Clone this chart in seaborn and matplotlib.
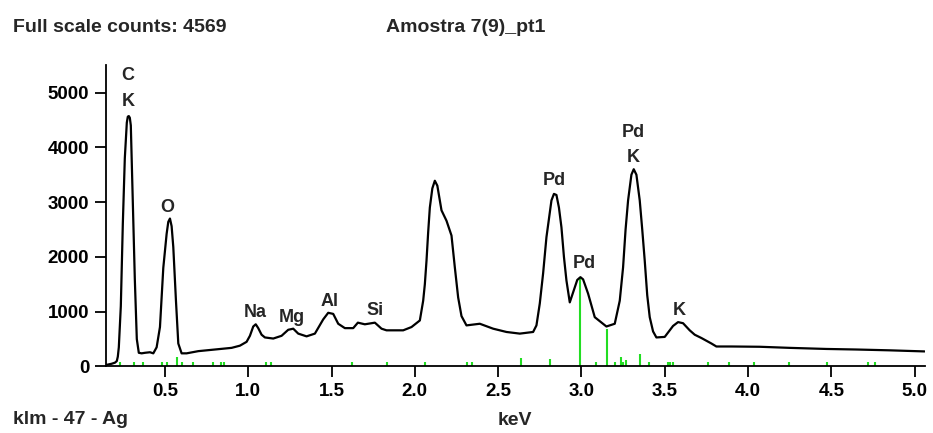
import numpy as np
import pandas as pd
import matplotlib
matplotlib.use("Agg")
import matplotlib.pyplot as plt
import seaborn as sns

# Spectrum (keV, counts)
kev = [0.15, 0.18, 0.20, 0.211, 0.217, 0.223, 0.235, 0.247, 0.259, 0.271,
       0.277, 0.283, 0.289, 0.295, 0.307, 0.319, 0.331, 0.343, 0.36, 0.38,
       0.41, 0.43, 0.45, 0.47, 0.49, 0.51, 0.52, 0.53, 0.54, 0.55,
       0.566, 0.58, 0.60, 0.63, 0.70, 0.80, 0.90, 0.95, 0.99, 1.01,
       1.03, 1.045, 1.06, 1.08, 1.10, 1.15, 1.20, 1.24, 1.27, 1.30,
       1.35, 1.40, 1.45, 1.48, 1.51, 1.54, 1.58, 1.63, 1.658, 1.70,
       1.76, 1.80, 1.83, 1.93, 1.98, 2.03, 2.05, 2.06, 2.07, 2.08,
       2.09, 2.105, 2.12, 2.135, 2.16, 2.19, 2.22, 2.24, 2.26, 2.28,
       2.31, 2.39, 2.47, 2.55, 2.63, 2.71, 2.73, 2.75, 2.77, 2.79,
       2.82, 2.835, 2.85, 2.865, 2.88, 2.895, 2.91, 2.93, 2.95, 2.975,
       2.994, 3.01, 3.04, 3.08, 3.15, 3.20, 3.23, 3.25, 3.265, 3.28,
       3.30, 3.314, 3.33, 3.35, 3.365, 3.38, 3.395, 3.41, 3.43, 3.45,
       3.50, 3.55, 3.58, 3.61, 3.65, 3.68, 3.72, 3.78, 3.81, 3.90,
       4.07, 4.25, 4.47, 4.65, 4.85, 5.06]
counts = [30, 50, 70, 100, 180, 350, 1100, 2600, 3800, 4450,
          4560, 4570, 4540, 4400, 3000, 1600, 500, 250, 240, 250,
          260, 240, 350, 720, 1800, 2420, 2640, 2700, 2560, 2180,
          1200, 420, 240, 240, 280, 310, 340, 380, 450, 560,
          730, 770, 700, 580, 530, 510, 560, 670, 690, 600,
          550, 600, 860, 980, 960, 780, 700, 700, 800, 770,
          800, 690, 660, 660, 720, 840, 1200, 1500, 1930, 2450,
          2900, 3250, 3390, 3300, 2850, 2660, 2390, 1810, 1260, 920,
          750, 780, 690, 630, 600, 630, 750, 1150, 1700, 2360,
          3030, 3150, 3130, 2900, 2540, 2000, 1570, 1170, 1350, 1580,
          1630, 1590, 1330, 900, 730, 780, 1200, 1810, 2500, 3030,
          3500, 3600, 3500, 3030, 2500, 1930, 1300, 900, 640, 530,
          540, 740, 810, 790, 660, 580, 520, 420, 365, 365,
          360, 340, 320, 310, 295, 275]

# KLM marker lines (green)
marker_kev = [0.230, 0.314, 0.368, 0.482, 0.512, 0.572, 0.602, 0.668, 0.788, 0.836,
              0.854, 1.106, 1.136, 1.622, 1.832, 2.060, 2.312, 2.342, 2.640, 2.810,
              2.994, 3.086, 3.156, 3.200, 3.236, 3.248, 3.266, 3.350, 3.404, 3.518,
              3.530, 3.548, 3.758, 3.884, 4.034, 4.244, 4.472, 4.723, 4.760]
marker_h = [90, 90, 90, 90, 90, 170, 90, 90, 90, 90,
            90, 90, 90, 90, 90, 90, 90, 90, 150, 140,
            1630, 90, 690, 90, 180, 90, 120, 230, 90, 90,
            90, 90, 90, 90, 90, 90, 90, 90, 90]

# peak labels
peak_labels = ["C", "K", "O", "Na", "Mg", "Al", "Si", "Pd", "Pd", "Pd", "K", "K"]
peak_kev = [0.278, 0.278, 0.511, 1.040, 1.260, 1.490, 1.760, 2.836, 3.016, 3.314, 3.314, 3.590]
peak_counts = [5310, 4836, 2907, 991, 888, 1192, 1022, 3394, 1874, 4275, 3819, 1022]

xticks = [0.5, 1.0, 1.5, 2.0, 2.5, 3.0, 3.5, 4.0, 4.5, 5.0]
yticks = [0, 1000, 2000, 3000, 4000, 5000]

sns.set_style("ticks")
plt.rcParams['font.family'] = ['Liberation Sans', 'DejaVu Sans']
plt.rcParams['font.weight'] = 'bold'

df = pd.DataFrame({'keV': kev, 'counts': counts})

fig = plt.figure(figsize=(9.33, 4.33), dpi=100)
ax = fig.add_axes([0.1136, 0.1536, 0.8774, 0.696])

ax.vlines(marker_kev, 0, marker_h, color='#22dd22', linewidth=1.5, zorder=1)
sns.lineplot(data=df, x='keV', y='counts', ax=ax, color='black', linewidth=1.6,
             sort=False, zorder=2)

for lab, x, y in zip(peak_labels, peak_kev, peak_counts):
    ax.text(x, y, lab, ha='center', va='center', fontsize=13, fontweight='bold')

ax.set_xlim(0.146, 5.06)
ax.set_ylim(0, 5500)
ax.set_xticks(xticks)
ax.set_xticklabels([f"{t:.1f}" for t in xticks])
ax.set_yticks(yticks)
ax.tick_params(axis='both', direction='out', length=8, width=1.3, pad=4,
               labelsize=13.5, colors='black')
for lbl in ax.get_xticklabels() + ax.get_yticklabels():
    lbl.set_fontweight('bold')
sns.despine(ax=ax)
for s in ['left', 'bottom']:
    ax.spines[s].set_linewidth(1.3)
    ax.spines[s].set_color('black')

ax.set_ylabel('')
ax.set_xlabel('keV', fontsize=14, fontweight='bold')
ax.xaxis.set_label_coords(0.5, -0.178)
ax.xaxis.label.set_va('center')

fig.text(13 / 933, 1 - 27 / 433, "Full scale counts: 4569", fontsize=14,
         fontweight='bold', va='center', ha='left')
fig.text(386 / 933, 1 - 27 / 433, "Amostra 7(9)_pt1", fontsize=14,
         fontweight='bold', va='center', ha='left')
fig.text(13 / 933, 1 - 420 / 433, "klm - 47 - Ag", fontsize=14,
         fontweight='bold', va='center', ha='left')

fig.savefig("out.png", dpi=100)
